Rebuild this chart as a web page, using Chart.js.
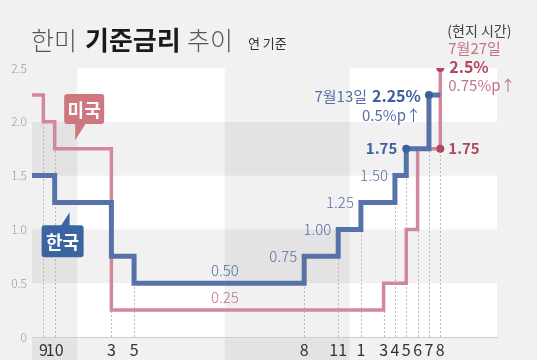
<!DOCTYPE html>
<html>
<head>
<meta charset="utf-8">
<script src="https://cdn.jsdelivr.net/npm/chart.js@4"></script>
<style>
  html, body { margin: 0; padding: 0; background: #f1f1f1; }
  #wrap { width: 537px; height: 360px; position: relative; }
</style>
</head>
<body>
<div id="wrap"><canvas id="rateChart"></canvas></div>
<script>
// months counted from Jan 2019 = 0
const koreaMonths = [7, 9, 14, 16, 31, 34, 36, 39, 40, 42, 43];
const koreaRates = [1.5, 1.25, 0.75, 0.5, 0.75, 1.0, 1.25, 1.5, 1.75, 2.25, 2.25];
const usMonths = [7, 8, 9, 14, 38, 40, 41, 43];
const usRates = [2.25, 2.0, 1.75, 0.25, 0.5, 1.0, 1.75, 2.5];

const koreaDotMonths = [40, 42];
const koreaDotRates = [1.75, 2.25];
const usDotMonths = [43, 43];
const usDotRates = [1.75, 2.5];

const tickMonths = [8, 9, 14, 16, 31, 34, 36, 38, 39, 40, 41, 42, 43];
const tickLabels = ['9', '10', '3', '5', '8', '11', '1', '3', '4', '5', '6', '7', '8'];
const yTicks = [0, 0.5, 1, 1.5, 2, 2.5];
const yTickLabels = ['0', '0.5', '1.0', '1.5', '2.0', '2.5'];

const shadedSpans = [[7, 11], [24, 35]];
const whiteRows = [[0, 0.5], [1, 1.5], [2, 2.5]];

const FONT = '"Noto Sans CJK KR", "Noto Sans", sans-serif';
const BLUE = '#5672a9';
const PINK = '#d0889a';
const BLUE_TEXT = '#566ea5';
const PINK_TEXT = '#c27484';
const BLUE_DARK = '#3d5f9c';
const PINK_DARK = '#b0475f';

function toPoints(xs, ys) {
    return xs.map((x, i) => ({ x: x, y: ys[i] }));
}

function text(ctx, str, x, y, size, weight, color, align) {
    ctx.font = weight + ' ' + size + 'px ' + FONT;
    ctx.fillStyle = color;
    ctx.textAlign = align || 'left';
    ctx.textBaseline = 'middle';
    ctx.fillText(str, x, y);
    return ctx.measureText(str).width;
}

// background bands
const bandsPlugin = {
    id: 'bands',
    beforeDraw(chart) {
        const { ctx, chartArea, scales } = chart;
        const x = scales.x, y = scales.y;
        ctx.save();
        ctx.fillStyle = '#f1f1f1';
        ctx.fillRect(0, 0, chart.width, chart.height);
        ctx.fillStyle = '#ffffff';
        whiteRows.forEach(r => {
            const top = y.getPixelForValue(r[1]);
            const bot = y.getPixelForValue(r[0]);
            ctx.fillRect(chartArea.left, top, chartArea.right - chartArea.left, bot - top);
        });
        ctx.fillStyle = 'rgba(0,0,0,0.055)';
        shadedSpans.forEach(s => {
            const l = x.getPixelForValue(s[0]);
            const r = x.getPixelForValue(s[1]);
            ctx.fillRect(l, chartArea.top, r - l, chart.height - chartArea.top);
        });
        ctx.restore();
    }
};

// value a series reaches at a change month
function changeTop(months, rates, m) {
    const i = months.indexOf(m);
    if (i <= 0) return null;
    return Math.max(rates[i - 1], rates[i]);
}

// dashed guides from the axis up to each change
const guidesPlugin = {
    id: 'guides',
    beforeDatasetsDraw(chart) {
        const { ctx, chartArea, scales } = chart;
        ctx.save();
        ctx.strokeStyle = '#b8b8b8';
        ctx.lineWidth = 1;
        ctx.setLineDash([2, 2]);
        tickMonths.forEach(m => {
            const tops = [changeTop(koreaMonths, koreaRates, m), changeTop(usMonths, usRates, m)]
                .filter(v => v !== null);
            if (!tops.length) return;
            const px = Math.round(scales.x.getPixelForValue(m)) + 0.5;
            ctx.beginPath();
            ctx.moveTo(px, chartArea.bottom);
            ctx.lineTo(px, scales.y.getPixelForValue(Math.max(...tops)));
            ctx.stroke();
        });
        ctx.restore();
    }
};

function callout(ctx, label, cx, cy, w, h, color, tailDown) {
    const l = cx - w / 2, t = cy - h / 2;
    ctx.fillStyle = color;
    ctx.beginPath();
    ctx.roundRect(l, t, w, h, 3);
    ctx.fill();
    ctx.beginPath();
    if (tailDown) {
        ctx.moveTo(l + 11, t + h - 1);
        ctx.lineTo(l + 11, t + h + 16);
        ctx.lineTo(l + 22, t + h - 1);
    } else {
        ctx.moveTo(l + 28, t + 1);
        ctx.lineTo(l + 28, t - 13);
        ctx.lineTo(l + 19, t + 1);
    }
    ctx.fill();
    text(ctx, label, cx, cy + 1, 18, 'bold', '#ffffff', 'center');
}

const labelsPlugin = {
    id: 'labels',
    afterDraw(chart) {
        const { ctx, scales } = chart;
        const X = v => scales.x.getPixelForValue(v);
        const Y = v => scales.y.getPixelForValue(v);
        ctx.save();

        // title
        text(ctx, '한미', 31, 40, 25, '300', '#555555');
        text(ctx, '기준금리', 85, 40, 26, 'bold', '#1a1a1a');
        text(ctx, '추이', 187, 40, 25, '300', '#555555');
        text(ctx, '연 기준', 248, 43, 13, 'normal', '#333333');

        // Korean step labels left of each riser
        for (let i = 4; i <= 7; i++) {
            text(ctx, koreaRates[i].toFixed(2), X(koreaMonths[i]) - 7, Y(koreaRates[i]), 15, '300', BLUE_TEXT, 'right');
        }
        text(ctx, koreaRates[8].toFixed(2), X(koreaMonths[8]) - 9, Y(koreaRates[8]), 15, 'bold', BLUE_DARK, 'right');
        text(ctx, koreaRates[3].toFixed(2), X(24), Y(koreaRates[3]) - 13, 15, '300', BLUE_TEXT, 'center');
        text(ctx, usRates[3].toFixed(2), X(24), Y(usRates[3]) - 13, 15, '300', PINK_TEXT, 'center');

        // Korea July hike
        const kx = X(42) - 8, ky = Y(2.25) + 1;
        const w = text(ctx, '2.25%', kx, ky, 16, 'bold', BLUE_DARK, 'right');
        text(ctx, '7월13일', kx - w - 5, ky, 15, 'normal', BLUE_TEXT, 'right');
        text(ctx, '0.5%p↑', kx, ky + 19, 15, 'normal', BLUE_TEXT, 'right');

        // US July hike
        const ux = X(43) + 8;
        text(ctx, '(현지 시간)', ux - 1, 31, 14, 'normal', '#444444');
        text(ctx, '7월27일', ux, Y(2.5) - 20, 15, 'normal', PINK_TEXT);
        text(ctx, '2.5%', ux + 1, Y(2.5) - 1, 16, 'bold', PINK_DARK);
        text(ctx, '0.75%p↑', ux, Y(2.5) + 17, 15, 'normal', PINK_TEXT);
        text(ctx, '1.75', ux, Y(1.75), 15, 'bold', PINK_DARK);

        // series callouts
        callout(ctx, '미국', X(11.6), Y(2.12), 40, 30, '#d0767e', true);
        callout(ctx, '한국', X(9.7), Y(0.89), 42, 32, '#3b65a0', false);

        ctx.restore();
    }
};

new Chart(document.getElementById('rateChart'), {
    type: 'line',
    data: {
        datasets: [
            {
                label: '한국 점',
                type: 'scatter',
                data: toPoints(koreaDotMonths, koreaDotRates),
                pointRadius: 4,
                pointBackgroundColor: BLUE_DARK,
                pointBorderWidth: 0,
                order: 0
            },
            {
                label: '미국 점',
                type: 'scatter',
                data: toPoints(usDotMonths, usDotRates),
                pointRadius: 4,
                pointBackgroundColor: PINK_DARK,
                pointBorderWidth: 0,
                order: 0
            },
            {
                label: '한국',
                data: toPoints(koreaMonths, koreaRates),
                borderColor: BLUE,
                borderWidth: 5,
                stepped: 'before',
                pointRadius: 0,
                borderCapStyle: 'butt',
                borderJoinStyle: 'miter',
                fill: false,
                order: 1
            },
            {
                label: '미국',
                data: toPoints(usMonths, usRates),
                borderColor: PINK,
                borderWidth: 3.5,
                stepped: 'before',
                pointRadius: 0,
                borderCapStyle: 'butt',
                borderJoinStyle: 'miter',
                fill: false,
                order: 2
            }
        ]
    },
    options: {
        responsive: true,
        maintainAspectRatio: false,
        animation: false,
        layout: { padding: { top: 68, right: 40, left: 0, bottom: 0 } },
        plugins: {
            legend: { display: false },
            tooltip: { enabled: false }
        },
        scales: {
            x: {
                type: 'linear',
                min: 7,
                max: 48,
                grid: { display: false, drawTicks: false },
                border: { display: true, color: '#cfcfcf', width: 1 },
                afterBuildTicks(scale) {
                    scale.ticks = tickMonths.map(v => ({ value: v }));
                },
                afterFit(scale) { scale.height = 23; },
                ticks: {
                    autoSkip: false,
                    maxRotation: 0,
                    padding: 3,
                    color: '#333333',
                    font: { family: FONT, size: 16 },
                    callback: v => tickLabels[tickMonths.indexOf(v)]
                }
            },
            y: {
                min: 0,
                max: 2.5,
                grid: { display: false, drawTicks: false },
                border: { display: false },
                afterBuildTicks(scale) {
                    scale.ticks = yTicks.map(v => ({ value: v }));
                },
                afterFit(scale) { scale.width = 32; },
                ticks: {
                    padding: 5,
                    color: '#9a9a9a',
                    font: { family: FONT, size: 12, weight: '300' },
                    callback: v => yTickLabels[yTicks.indexOf(v)]
                }
            }
        }
    },
    plugins: [bandsPlugin, guidesPlugin, labelsPlugin]
});
</script>
</body>
</html>
